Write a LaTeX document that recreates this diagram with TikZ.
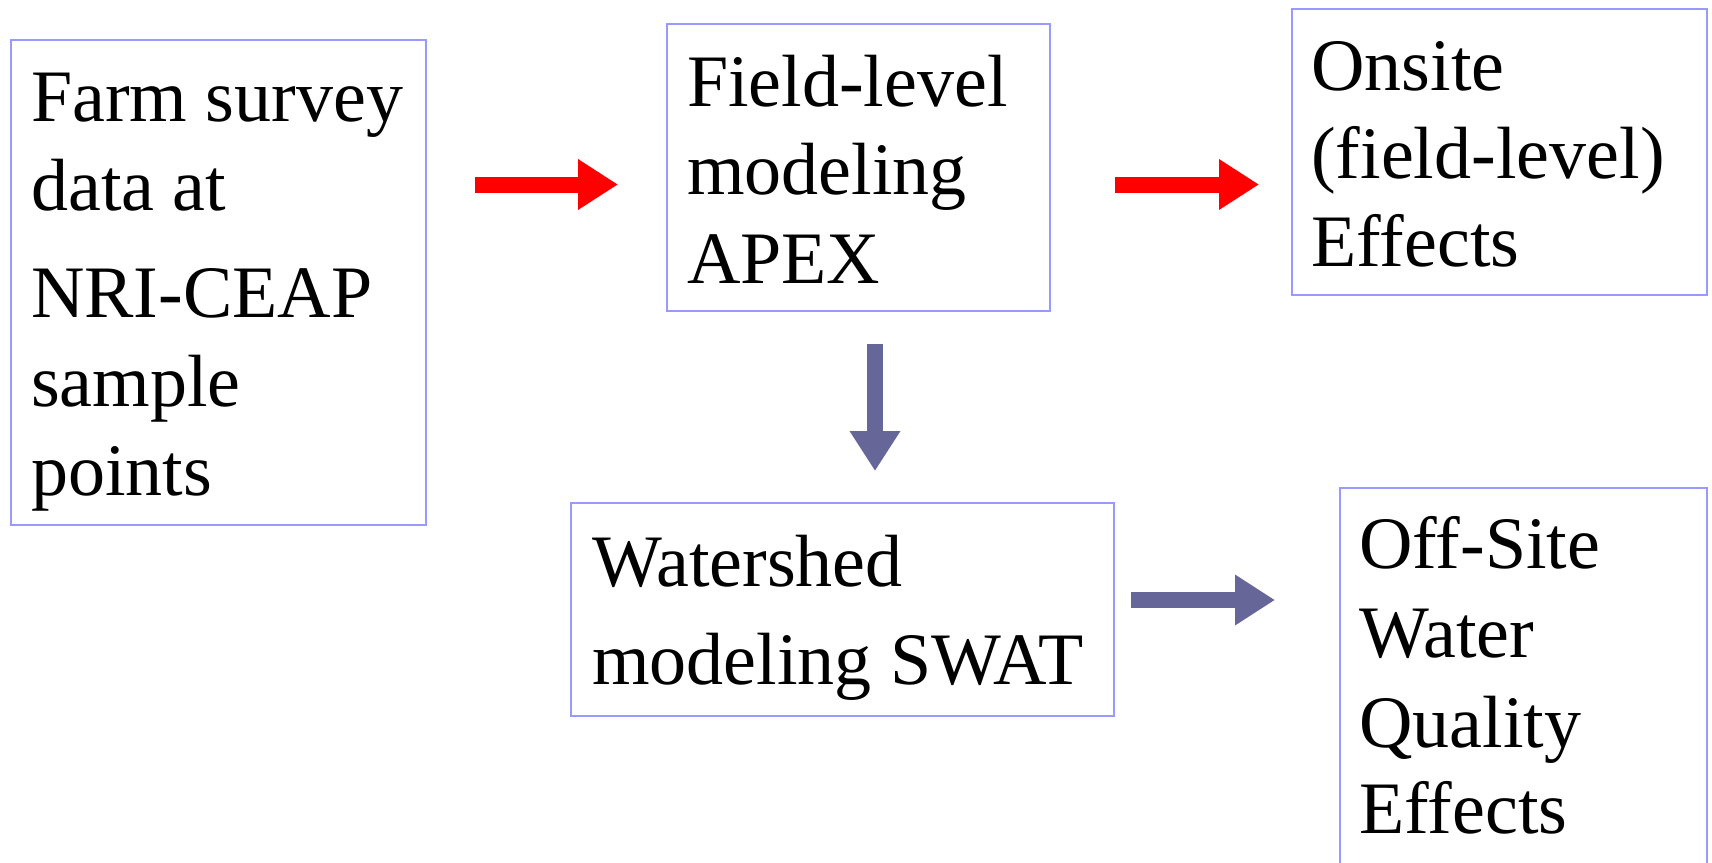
\documentclass[tikz,border=0pt]{standalone}
\usepackage{fontspec}
\setmainfont{Liberation Serif}
\usetikzlibrary{arrows.meta}
\definecolor{boxline}{HTML}{9999FF}
\definecolor{slate}{HTML}{666699}
\definecolor{redarr}{HTML}{FF0000}
\begin{document}
\begin{tikzpicture}[x=1pt,y=-1pt,
  box/.style={draw=boxline, line width=2pt, rectangle, inner sep=0pt, outer sep=0pt, anchor=north west},
  txt/.style={anchor=base west, inner sep=0pt, font=\fontsize{74}{88}\selectfont},
  fatarrow/.style={line width=16pt, -{Triangle[length=40pt,width=48pt]}},
  redarrow/.style={fatarrow, draw=redarr, fill=redarr},
  bluearrow/.style={fatarrow, draw=slate, fill=slate}]
\useasboundingbox (0,0) rectangle (1712,862);
\clip (0,0) rectangle (1712,862);
% boxes
\node[box, minimum width=415pt, minimum height=485pt] (farm) at (11,40) {};
\node[box, minimum width=383pt, minimum height=287pt] (apex) at (667,24) {};
\node[box, minimum width=415pt, minimum height=286pt] (onsite) at (1292,9) {};
\node[box, minimum width=543pt, minimum height=213pt] (swat) at (571,503) {};
\node[box, minimum width=367pt, minimum height=412pt] (offsite) at (1340,488) {};
% texts
\node[txt] (f1) at (31,121) {Farm survey};
\node[txt] (f2) at (31,210) {data at};
\node[txt] (f3) at (31,317) {NRI-CEAP};
\node[txt] (f4) at (31,406) {sample};
\node[txt] (f5) at (31,495) {points};
\node[txt] (a1) at (687,106) {Field-level};
\node[txt] (a2) at (687,194) {modeling};
\node[txt] (a3) at (687,283) {APEX};
\node[txt] (o1) at (1311,90) {Onsite};
\node[txt] (o2) at (1311,178) {(field-level)};
\node[txt] (o3) at (1311,266) {Effects};
\node[txt] (s1) at (592,586) {Watershed};
\node[txt] (s2) at (592,684) {modeling SWAT};
\node[txt] (w1) at (1359,568) {Off-Site};
\node[txt] (w2) at (1359,657) {Water};
\node[txt] (w3) at (1359,747) {Quality};
\node[txt] (w4) at (1359,833) {Effects};
% connector ends
\coordinate (r1s) at (475,184.5);
\coordinate (r1e) at (618,184.5);
\coordinate (r2s) at (1115,184.5);
\coordinate (r2e) at (1259,184.5);
\coordinate (dns) at (875,344);
\coordinate (dne) at (875,471);
\coordinate (rts) at (1131,600);
\coordinate (rte) at (1275,600);
% arrows
\draw[redarrow] (r1s) -- (r1e);
\draw[redarrow] (r2s) -- (r2e);
\draw[bluearrow] (dns) -- (dne);
\draw[bluearrow] (rts) -- (rte);
\end{tikzpicture}
\end{document}
